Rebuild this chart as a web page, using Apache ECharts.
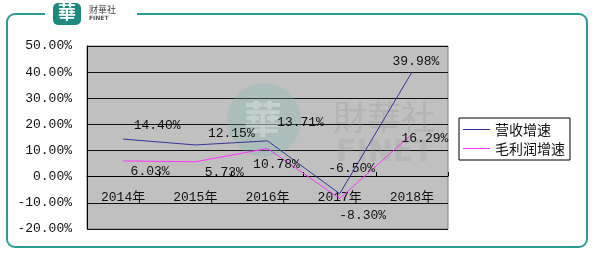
<!DOCTYPE html>
<html><head><meta charset="utf-8">
<script src="https://cdn.jsdelivr.net/npm/echarts@6/dist/echarts.min.js"></script>
<style>html,body{margin:0;padding:0;background:#fff}#c{width:595px;height:258px}</style>
</head><body><div id="c"></div>
<script>
const categories = ['2014年', '2015年', '2016年', '2017年', '2018年'];
const revenueGrowth = [14.40, 12.15, 13.71, -6.50, 39.98];
const profitGrowth = [6.03, 5.73, 10.78, -8.30, 16.29];
const seriesNames = ['营收增速', '毛利润增速'];
const yTicks = { min: -20, max: 50, interval: 10 };

// label placement (style only)
const revLabelOffsets = [[34, -14], [36, -11], [33, -18], [12, -25], [4, -11]];
const profLabelOffsets = [[27, 11], [29, 11], [9, 16], [23, 17], [13, 4]];

const mono = '"Liberation Mono","Noto Sans CJK SC",monospace';
function mkData(vals, offs) {
  return vals.map((v, i) => ({
    value: v,
    label: { offset: offs[i] }
  }));
}
const chart = echarts.init(document.getElementById('c'), null, { renderer: 'canvas' });
chart.setOption({
  animation: false,
  backgroundColor: '#fff',
  grid: { left: 87, top: 46, width: 361, height: 183, show: true,
    backgroundColor: '#c0c0c0', borderColor: '#808080', borderWidth: 1 },
  xAxis: {
    type: 'category', data: categories, boundaryGap: true,
    offset: -53,
    axisLine: { onZero: false, lineStyle: { color: '#000', width: 1 } },
    axisTick: { show: true, inside: true, length: 4, lineStyle: { color: '#000' } },
    axisLabel: { margin: 15, color: '#111', fontFamily: mono, fontSize: 13 },
    splitLine: { show: false }
  },
  yAxis: {
    type: 'value', min: yTicks.min, max: yTicks.max, interval: yTicks.interval,
    axisLine: { show: true, lineStyle: { color: '#000' } },
    axisTick: { show: false },
    axisLabel: { margin: 15, color: '#111', fontFamily: mono, fontSize: 13,
      formatter: v => v.toFixed(2) + '%' },
    splitLine: { show: true, lineStyle: { color: '#111', width: 1 } }
  },
  legend: {
    orient: 'vertical', left: 459, top: 118,
    data: seriesNames,
    icon: 'rect', itemWidth: 27, itemHeight: 1, itemGap: 2,
    borderColor: '#000', borderWidth: 1, padding: [3, 5, 3, 4],
    backgroundColor: '#fff',
    textStyle: { fontFamily: '"Noto Sans CJK SC"', fontSize: 14, color: '#111', lineHeight: 17 }
  },
  series: [
    { name: seriesNames[0], type: 'line', z: 3,
      data: mkData(revenueGrowth, revLabelOffsets),
      symbol: 'circle', symbolSize: 0.1, showSymbol: true,
      color: '#333399', lineStyle: { color: '#333399', width: 1 },
      label: { show: true, position: 'inside', color: '#111', fontFamily: mono, fontSize: 13,
        formatter: p => p.value.toFixed(2) + '%' } },
    { name: seriesNames[1], type: 'line', z: 3,
      data: mkData(profitGrowth, profLabelOffsets),
      symbol: 'circle', symbolSize: 0.1, showSymbol: true,
      color: '#ff33ff', lineStyle: { color: '#ff33ff', width: 1 },
      label: { show: true, position: 'inside', color: '#111', fontFamily: mono, fontSize: 13,
        formatter: p => p.value.toFixed(2) + '%' } }
  ],
  graphic: [
    { type: 'rect', z: -1, silent: true,
      shape: { x: 7, y: 14, width: 580, height: 233, r: 8 },
      style: { fill: 'none', stroke: '#2a9d94', lineWidth: 2 } },
    { type: 'rect', z: -1, silent: true,
      shape: { x: 45, y: 6, width: 92, height: 14 }, style: { fill: '#fff' } },
    { type: 'rect', z: 5, silent: true,
      shape: { x: 53, y: 3, width: 28, height: 22, r: 5 }, style: { fill: '#1e8a7f' } },
    { type: 'text', z: 6, silent: true, left: 58, top: 3,
      style: { text: '華', fill: '#fff', font: 'bold 18px "Noto Sans CJK TC"' } },
    { type: 'text', z: 6, silent: true, left: 89, top: 5,
      style: { text: '财華社', fill: '#444', font: '9px "Noto Sans CJK SC"' } },
    { type: 'text', z: 6, silent: true, left: 89, top: 15,
      style: { text: 'FINET', fill: '#555', font: 'bold 6px "DejaVu Sans"' } },
    { type: 'circle', z: 1, silent: true,
      shape: { cx: 264, cy: 120, r: 37 }, style: { fill: 'rgba(120,185,175,0.28)' } },
    { type: 'text', z: 1, silent: true, left: 244, top: 100,
      style: { text: '華', fill: 'rgba(255,255,255,0.3)', font: 'bold 38px "Noto Sans CJK TC"' } },
    { type: 'text', z: 1, silent: true, left: 333, top: 100,
      style: { text: '財華社', fill: 'rgba(150,150,150,0.3)', font: '34px "Noto Sans CJK TC"' } },
    { type: 'text', z: 1, silent: true, left: 336, top: 138,
      style: { text: 'FINET', fill: 'rgba(150,150,150,0.25)', font: 'bold 30px "DejaVu Sans"' } }
  ]
});
</script></body></html>
